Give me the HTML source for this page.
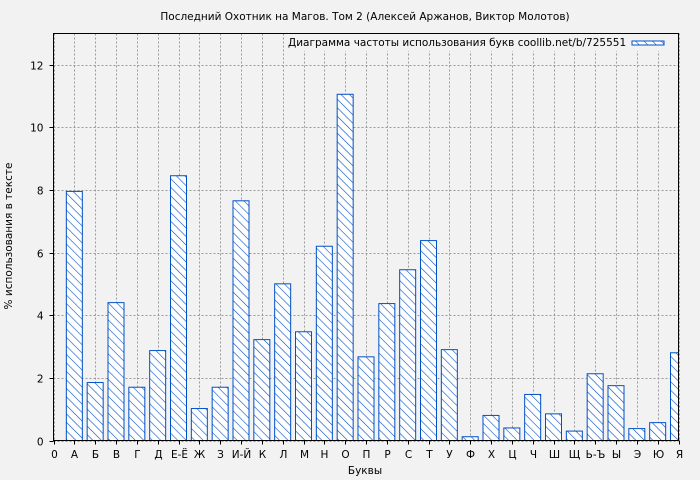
<!DOCTYPE html>
<html><head><meta charset="utf-8"><style>
body{margin:0;background:#f2f2f2;}
svg{display:block;font-family:"DejaVu Sans","Liberation Sans",sans-serif;}
</style></head><body>
<svg id="c" width="700" height="480">
<defs><pattern id="h" patternUnits="userSpaceOnUse" width="6" height="6" patternTransform="rotate(-45)"><rect width="6" height="6" fill="#fff"/><line x1="0" y1="0" x2="0" y2="6" stroke="#0050c8" stroke-width="1.2"/></pattern></defs>
<rect width="700" height="480" fill="#f2f2f2"/>
<text x="365" y="20" font-size="10.5" text-anchor="middle">Последний Охотник на Магов. Том 2 (Алексей Аржанов, Виктор Молотов)</text>
<g id="grid"></g><g id="bars"></g><g id="axes"></g>
<text x="365" y="474" font-size="10.5" text-anchor="middle">Буквы</text>
<text transform="translate(12,236) rotate(-90)" font-size="10.5" text-anchor="middle">% использования в тексте</text>
<rect x="285" y="34" width="390" height="17" fill="#f2f2f2"/>
<text x="288" y="46" font-size="10.5">Диаграмма частоты использования букв coollib.net/b/725551</text>
<rect x="632" y="41" width="32" height="4" fill="url(#h)" stroke="#0050c8"/>
<rect x="53.5" y="33.5" width="625" height="407" fill="none" stroke="#000"/>
</svg>
<script>
const categories=["0","А","Б","В","Г","Д","Е-Ё","Ж","З","И-Й","К","Л","М","Н","О","П","Р","С","Т","У","Ф","Х","Ц","Ч","Ш","Щ","Ь-Ъ","Ы","Э","Ю","Я"];
const values=[7.95,1.85,4.4,1.7,2.87,8.45,1.02,1.7,7.65,3.22,5.0,3.47,6.2,11.05,2.67,4.37,5.45,6.38,2.9,0.12,0.8,0.4,1.47,0.85,0.3,2.13,1.75,0.38,0.57,2.8];
const yTicks=[0,2,4,6,8,10,12];
const X0=53.5,X1=678.5,Y0=440.5,Y1=33.5,YMAX=12.99;
const ns="http://www.w3.org/2000/svg";
const xs=i=>X0+i*(X1-X0)/(categories.length-1);
const ys=v=>Y0-v*(Y0-Y1)/YMAX;
const grid=document.getElementById('grid'),bars=document.getElementById('bars'),axes=document.getElementById('axes');
function mk(tag,attrs,parent){const e=document.createElementNS(ns,tag);for(const k in attrs)e.setAttribute(k,attrs[k]);parent.appendChild(e);return e;}
categories.forEach((c,i)=>{
  const x=Math.round(xs(i))+0.5;
  const g=mk('line',{x1:x,x2:x,y1:Y1,y2:Y0,stroke:'#999','stroke-dasharray':'2,2'},grid);
  
  
  const t=mk('line',{x1:x,x2:x,y1:Y0,y2:Y0+4,stroke:'#000'},axes);
  
  
  const l=mk('text',{x:x,y:458,'font-size':10.5,'text-anchor':'middle'},axes);l.textContent=c;
  
  
});
yTicks.forEach(v=>{
  const y=Math.round(ys(v))+0.5;
  const g=mk('line',{x1:X0,x2:X1,y1:y,y2:y,stroke:'#999','stroke-dasharray':'2,2'},grid);
  
  
  const t=mk('line',{x1:X0-4,x2:X0,y1:y,y2:y,stroke:'#000'},axes);
  
  
  const l=mk('text',{x:X0-10,y:y+4,'font-size':10.5,'text-anchor':'end'},axes);l.textContent=v;
  
  
});
const bw=16;
values.forEach((v,i)=>{
  const cx=xs(i+1);let x=cx-bw/2,w=bw;
  if(x+w>X1)w=X1-x;
  const y=ys(v);
  const r=mk('rect',{x:x,y:y,width:w,height:Y0-y,fill:'url(#h)',stroke:'#0050c8','stroke-width':1},bars);
  
  
});
</script>
</body></html>
